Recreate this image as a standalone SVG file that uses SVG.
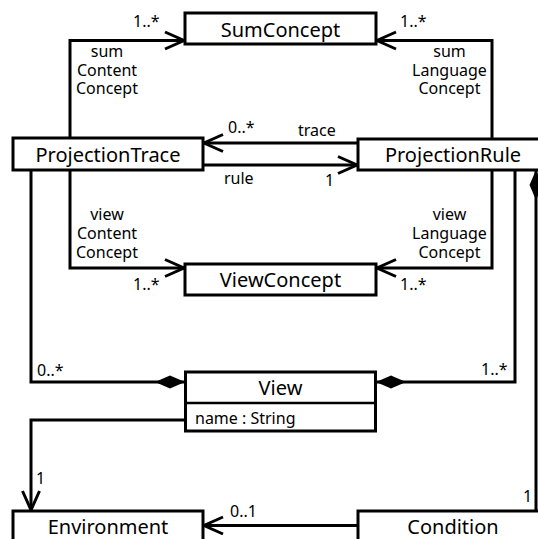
<svg xmlns="http://www.w3.org/2000/svg" width="538" height="539" viewBox="0 0 538 539">
  <style>
    .box { fill: #ffffff; stroke: #000000; stroke-width: 3; }
    .sep { stroke: #000000; stroke-width: 2.5; fill: none; }
    .title { font-family: "Noto Sans", "Open Sans", sans-serif; font-size: 20px; fill: #000000; text-anchor: middle; }
    .attr { font-family: "Noto Sans", "Open Sans", sans-serif; font-size: 16px; fill: #000000; }
    .lbl { font-family: "Noto Sans", "Open Sans", sans-serif; font-size: 16px; fill: #000000; }
    .mid { text-anchor: middle; }
    .conn { fill: none; stroke: #000000; stroke-width: 3; }
    .arrow { marker-end: url(#openArrow); }
    .comp { marker-end: url(#diamond); }
  </style>
  <defs>
    <marker id="openArrow" markerUnits="userSpaceOnUse" viewBox="-24 -12 28 24" markerWidth="28" markerHeight="24" refX="0" refY="0" orient="auto">
      <path d="M-19,-8.5 L0,0 L-19,8.5" fill="none" stroke="#000000" stroke-width="3"/>
    </marker>
    <marker id="diamond" markerUnits="userSpaceOnUse" viewBox="-32 -8 34 16" markerWidth="34" markerHeight="16" refX="0" refY="0" orient="auto">
      <path d="M0,0 L-15,-6.5 L-30,0 L-15,6.5 Z" fill="#000000" stroke="none"/>
    </marker>
  </defs>

  <g id="connectors">
    <!-- sumContentConcept -->
    <path class="conn arrow" d="M70,138 L70,40.5 L184,40.5"/>
    <!-- sumLanguageConcept -->
    <path class="conn arrow" d="M492,139 L492,40.5 L377,40.5"/>
    <!-- trace -->
    <path class="conn arrow" d="M358,143 L204,143"/>
    <!-- rule -->
    <path class="conn arrow" d="M203,165 L357,165"/>
    <!-- viewContentConcept -->
    <path class="conn arrow" d="M70,170 L70,268 L184,268"/>
    <!-- viewLanguageConcept -->
    <path class="conn arrow" d="M492,170 L492,268 L377,268"/>
    <!-- ProjectionTrace - View composition -->
    <path class="conn comp" d="M31,170 L31,382 L185,382"/>
    <!-- ProjectionRule - View composition -->
    <path class="conn comp" d="M515,170 L515,382 L376,382"/>
    <!-- View - Environment -->
    <path class="conn arrow" d="M185,420 L31,420 L31,510"/>
    <!-- Condition - Environment -->
    <path class="conn arrow" d="M358,525.5 L204,525.5"/>
    <!-- ProjectionRule - Condition composition -->
    <path class="conn comp" d="M536,511 L536,170"/>

    <text class="lbl" x="133" y="27">1..*</text>
    <text class="lbl mid" x="107" y="57">sum</text>
    <text class="lbl mid" x="107" y="75.5">Content</text>
    <text class="lbl mid" x="107" y="94">Concept</text>

    <text class="lbl" x="400" y="27">1..*</text>
    <text class="lbl mid" x="449.5" y="57">sum</text>
    <text class="lbl mid" x="449.5" y="75.5">Language</text>
    <text class="lbl mid" x="449.5" y="94">Concept</text>

    <text class="lbl" x="228" y="133">0..*</text>
    <text class="lbl" x="298" y="136">trace</text>
    <text class="lbl" x="224" y="184">rule</text>
    <text class="lbl" x="325" y="186">1</text>

    <text class="lbl mid" x="107" y="220">view</text>
    <text class="lbl mid" x="107" y="239">Content</text>
    <text class="lbl mid" x="107" y="257.5">Concept</text>
    <text class="lbl" x="133" y="290">1..*</text>

    <text class="lbl mid" x="449.5" y="220">view</text>
    <text class="lbl mid" x="449.5" y="239">Language</text>
    <text class="lbl mid" x="449.5" y="257.5">Concept</text>
    <text class="lbl" x="400" y="290">1..*</text>

    <text class="lbl" x="37" y="375.5">0..*</text>
    <text class="lbl" x="481" y="375">1..*</text>
    <text class="lbl" x="36" y="484">1</text>
    <text class="lbl" x="230" y="516.5">0..1</text>
    <text class="lbl" x="523" y="501.5">1</text>
  </g>

  <g id="SumConcept">
    <rect class="box" x="185" y="13" width="191" height="31"/>
    <text class="title" x="280.5" y="36.5">SumConcept</text>
  </g>

  <g id="ProjectionTrace">
    <rect class="box" x="13" y="138" width="190" height="32"/>
    <text class="title" x="108" y="161.5">ProjectionTrace</text>
  </g>

  <g id="ProjectionRule">
    <rect class="box" x="358" y="139" width="190" height="31"/>
    <text class="title" x="453" y="162">ProjectionRule</text>
  </g>

  <g id="ViewConcept">
    <rect class="box" x="185" y="264" width="191" height="31"/>
    <text class="title" x="280.5" y="287">ViewConcept</text>
  </g>

  <g id="View">
    <rect class="box" x="185.5" y="372" width="190" height="59"/>
    <line class="sep" x1="185.5" y1="403" x2="375.5" y2="403"/>
    <text class="title" x="280.5" y="395">View</text>
    <text class="attr" x="195" y="424">name : String</text>
  </g>

  <g id="Environment">
    <rect class="box" x="13" y="511" width="190" height="34"/>
    <text class="title" x="108" y="533.5">Environment</text>
  </g>

  <g id="Condition">
    <rect class="box" x="358" y="511" width="190" height="34"/>
    <text class="title" x="453" y="533.5">Condition</text>
  </g>
</svg>
